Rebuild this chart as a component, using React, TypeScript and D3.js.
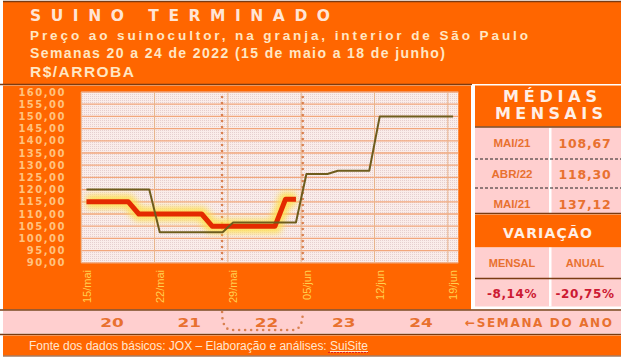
import React from "react";
import * as d3 from "d3";

// ---------- DATA ----------
const tickDays = [0, 7, 14, 21, 28, 35];
const tickLabels = ["15/mai", "22/mai", "29/mai", "05/jun", "12/jun", "19/jun"];
const yTicks = [90, 95, 100, 105, 110, 115, 120, 125, 130, 135, 140, 145, 150, 155, 160];

// daily price 2022 (red), from 15/mai
const price2022 = [115, 115, 115, 115, 115, 110, 110, 110, 110, 110, 110, 110, 105, 105, 105, 105, 105, 105, 105, 116, 116];
// daily price comparison series (olive)
const priceRef = [
  120, 120, 120, 120, 120, 120, 120,
  102.5, 102.5, 102.5, 102.5, 102.5, 102.5, 102.5,
  106.5, 106.5, 106.5, 106.5, 106.5, 106.5, 106.5,
  126.4, 126.4, 126.4, 127.7, 127.7, 127.7, 127.7,
  150, 150, 150, 150, 150, 150, 150, 150,
];

const monthLabels = ["MAI/21", "ABR/22", "MAI/21"];
const monthValues = ["108,67", "118,30", "137,12"];
const varLabels = ["MENSAL", "ANUAL"];
const varValues = ["-8,14%", "-20,75%"];
const weeks = ["20", "21", "22", "23", "24"];
const highlightDays = [13.45, 21.15];

const fmt = (v: number) => d3.format(".2f")(v).replace(".", ",");

const ORANGE = "#FF6600";
const PINK = "#FFCFCF";
const DARK = "#7A3B12";
const TXT = "#E8712F";

export default function App() {
  const x = d3.scaleLinear().domain([0, 36]).range([81.2, 458.3]);
  const y = d3.scaleLinear().domain([90, 160]).range([262.8, 92]);
  const px = (i: number) => x(i + 0.5);
  const line = d3
    .line<number>()
    .x((_, i) => px(i))
    .y((d) => y(d));

  const wx = d3.scalePoint<string>().domain(weeks).range([112, 421]);
  const colX = d3.scalePoint<number>().domain([0, 1]).range([512, 585]);

  const hx0 = x(highlightDays[0]);
  const hx1 = x(highlightDays[1]);

  const rowY = [143, 174, 204];
  const dejavu = "DejaVu Sans, Verdana, sans-serif";
  const arial = "Liberation Sans, Arial, sans-serif";

  return (
    <svg
      width={623}
      height={357}
      style={{ position: "absolute", left: 0, top: 0, background: "#fff" }}
    >
      <defs>
        <pattern id="dots" width="2" height="2" patternUnits="userSpaceOnUse">
          <rect width="2" height="2" fill="#FAEDEA" />
          <rect width="1" height="1" fill="#E6CFCF" />
        </pattern>
        <filter id="glow" x="-10%" y="-60%" width="120%" height="220%">
          <feGaussianBlur stdDeviation="3.2" />
        </filter>
      </defs>

      {/* header */}
      <rect x={3} y={2} width={618} height={82} fill={ORANGE} />
      <line x1={3} x2={621} y1={1.5} y2={1.5} stroke={DARK} strokeWidth={1.5} />
      <text x={30} y={21} fill="#FFE5D6" fontFamily={dejavu} fontWeight="bold" fontSize={15.5} textLength={300} lengthAdjust="spacing">
        SUINO TERMINADO
      </text>
      <text x={30} y={40} fill="#FFE7C4" fontFamily={arial} fontWeight="bold" fontSize={13.5} textLength={498} lengthAdjust="spacing">
        Preço ao suinocultor, na granja, interior de São Paulo
      </text>
      <text x={30} y={58} fill="#FFE7C4" fontFamily={arial} fontWeight="bold" fontSize={14} textLength={415} lengthAdjust="spacing">
        Semanas 20 a 24 de 2022 (15 de maio a 18 de junho)
      </text>
      <text x={30} y={77} fill="#FFE7C4" fontFamily={arial} fontWeight="bold" fontSize={15.5} textLength={104} lengthAdjust="spacing">
        R$/ARROBA
      </text>
      <line x1={0} x2={472} y1={84.5} y2={84.5} stroke={DARK} strokeWidth={1.5} />

      {/* chart area */}
      <rect x={3} y={85.5} width={468} height={224} fill={ORANGE} />
      <rect x={x(0)} y={y(160)} width={x(36) - x(0)} height={y(90) - y(160)} fill="url(#dots)" />
      {yTicks.map((t) => (
        <line key={"g" + t} x1={x(0)} x2={x(36)} y1={y(t)} y2={y(t)} stroke="#F2A77C" strokeWidth={1.3} />
      ))}
      {tickDays.map((d) => (
        <line key={"v" + d} x1={x(d)} x2={x(d)} y1={y(160)} y2={y(90)} stroke="#E8B48C" strokeWidth={1} />
      ))}
      {yTicks.map((t) => (
        <text key={"yl" + t} x={66} y={y(t) + 3.6} textAnchor="end" fill="#FFC27F" fontFamily={dejavu} fontWeight="bold" fontSize={10} letterSpacing={1.5}>
          {fmt(t)}
        </text>
      ))}
      {tickDays.map((d, i) => (
        <text
          key={"xl" + d}
          transform={`translate(${x(d) + 9.5},270) rotate(-90)`}
          textAnchor="end"
          fill="#FFD050"
          fontFamily={arial}
          fontSize={11}
        >
          {tickLabels[i]}
        </text>
      ))}

      {/* week highlight dotted */}
      {[hx0, hx1].map((hx, i) => (
        <line key={"hl" + i} x1={hx} x2={hx} y1={97} y2={262} stroke="#D9804F" strokeWidth={2.6} strokeLinecap="round" strokeDasharray="0 6" />
      ))}

      {/* lines */}
      <path d={line(price2022) || ""} fill="none" stroke="#FFE050" strokeWidth={14} strokeOpacity={0.9} filter="url(#glow)" />
      <path d={line(price2022) || ""} fill="none" stroke="#E42A00" strokeWidth={5} strokeLinejoin="round" />
      <path d={line(priceRef) || ""} fill="none" stroke="#6E5C1C" strokeWidth={2} strokeLinejoin="round" />

      {/* right panel */}
      <rect x={471} y={85.5} width={4} height={224} fill="#FFFFFF" />
      <rect x={475} y={85.5} width={146} height={41} fill={ORANGE} />
      <text x={503} y={101.5} fill="#FFEFE6" fontFamily={dejavu} fontWeight="bold" fontSize={16} textLength={94} lengthAdjust="spacing">
        MÉDIAS
      </text>
      <text x={495} y={119} fill="#FFEFE6" fontFamily={dejavu} fontWeight="bold" fontSize={16} textLength={108} lengthAdjust="spacing">
        MENSAIS
      </text>
      <line x1={475} x2={621} y1={127} y2={127} stroke={DARK} strokeWidth={1.5} />
      <rect x={475} y={128} width={146} height={85} fill={PINK} />
      <rect x={549} y={128} width={2.5} height={85} fill="#FFFFFF" />
      {[159, 188].map((yy) => (
        <line key={"ds" + yy} x1={475} x2={621} y1={yy} y2={yy} stroke="#222" strokeWidth={1} strokeDasharray="3 2" />
      ))}
      {monthLabels.map((m, i) => (
        <g key={"m" + i}>
          <text x={colX(0)} y={rowY[i] + 4} textAnchor="middle" fill={TXT} fontFamily={arial} fontWeight="bold" fontSize={11.5}>
            {m}
          </text>
          <text x={colX(1)} y={rowY[i] + 4.5} textAnchor="middle" fill={TXT} fontFamily={dejavu} fontWeight="bold" fontSize={12.5} letterSpacing={0.8}>
            {monthValues[i]}
          </text>
        </g>
      ))}
      <line x1={475} x2={621} y1={213.5} y2={213.5} stroke={DARK} strokeWidth={1.5} />
      <rect x={475} y={214.5} width={146} height={33} fill={ORANGE} />
      <text x={503} y={238} fill="#FFEFE6" fontFamily={dejavu} fontWeight="bold" fontSize={14} textLength={89} lengthAdjust="spacing">
        VARIAÇÃO
      </text>
      <rect x={475} y={247.5} width={146} height={59} fill={PINK} />
      <rect x={549} y={247.5} width={2.5} height={59} fill="#FFFFFF" />
      <line x1={475} x2={621} y1={278.5} y2={278.5} stroke={DARK} strokeWidth={1.5} />
      {varLabels.map((v, i) => (
        <g key={"v" + i}>
          <text x={colX(i)} y={266.5} textAnchor="middle" fill={TXT} fontFamily={arial} fontWeight="bold" fontSize={11}>
            {v}
          </text>
          <text x={colX(i)} y={297.5} textAnchor="middle" fill="#CC1A33" fontFamily={dejavu} fontWeight="bold" fontSize={12} letterSpacing={0.6}>
            {varValues[i]}
          </text>
        </g>
      ))}

      {/* week band */}
      <line x1={0} x2={621} y1={310} y2={310} stroke={DARK} strokeWidth={1.5} />
      <rect x={3} y={311} width={618} height={22.5} fill={PINK} />
      {weeks.map((w) => (
        <text
          key={"w" + w}
          transform={`translate(${wx(w)},326.5) scale(1.35,1)`}
          textAnchor="middle"
          fill={TXT}
          fontFamily={dejavu}
          fontWeight="bold"
          fontSize={12.5}
        >
          {w}
        </text>
      ))}
      <text x={465} y={326.5} fill={TXT} fontFamily={dejavu} fontWeight="bold" fontSize={12} textLength={147} lengthAdjust="spacing">
        ←SEMANA DO ANO
      </text>
      <path
        d={`M${hx0},312 Q${hx0},330 ${hx0 + 10},330 L${hx1 - 10},330 Q${hx1},330 ${hx1},312`}
        fill="none"
        stroke="#D9804F"
        strokeWidth={2.6}
        strokeLinecap="round"
        strokeDasharray="0 6"
      />

      {/* footer */}
      <line x1={0} x2={621} y1={334.5} y2={334.5} stroke={DARK} strokeWidth={1.5} />
      <rect x={3} y={335.5} width={618} height={20} fill={ORANGE} />
      <text x={29} y={350} fill="#FFE7D0" fontFamily={arial} fontSize={12} textLength={339} lengthAdjust="spacing">
        Fonte dos dados básicos: JOX – Elaboração e análises: <tspan textDecoration="underline">SuiSite</tspan>
      </text>
      <line x1={328} x2={368} y1={352.5} y2={352.5} stroke="#E02020" strokeWidth={1} strokeDasharray="2 1" />
      <line x1={3} x2={621} y1={356} y2={356} stroke={DARK} strokeWidth={1} />
    </svg>
  );
}
